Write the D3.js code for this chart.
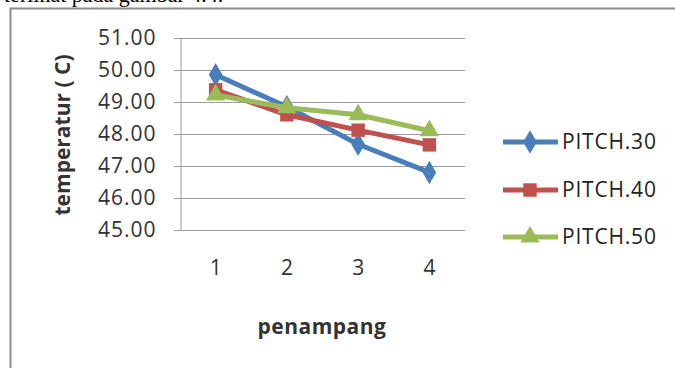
<!DOCTYPE html>
<html>
<head>
<meta charset="utf-8">
<script src="https://cdn.jsdelivr.net/npm/d3@7"></script>
<style>
  body { margin: 0; background: #fff; }
  svg { display: block; }
  text { font-family: "Open Sans", sans-serif; fill: #222; }
</style>
</head>
<body>
<svg id="chart" width="675" height="368"></svg>
<script>
// data
const categories = ["1", "2", "3", "4"];
const pitch30 = [49.85, 48.85, 47.68, 46.8];
const pitch40 = [49.38, 48.6, 48.12, 47.66];
const pitch50 = [49.22, 48.82, 48.6, 48.1];
const seriesNames = ["PITCH.30", "PITCH.40", "PITCH.50"];
const yTicks = [45, 46, 47, 48, 49, 50, 51];

const colors = ["#4a7ebb", "#c0504d", "#9bbb59"];
const symbols = [d3.symbolDiamond, d3.symbolSquare, d3.symbolTriangle];
const symSize = [160, 180, 160];

let svg = d3.select('#chart');

// caption text cut off at the top of the picture
svg.append('text')
  .attr('x', 4).attr('y', 2)
  .style('font-family', '"Liberation Serif", serif')
  .style('font-size', '22px')
  .style('fill', '#000')
  .text('terlihat pada gambar 4.4.');

// chart frame
svg.append('rect')
  .attr('x', 10.5).attr('y', 8.5)
  .attr('width', 700).attr('height', 400)
  .attr('fill', '#fff')
  .attr('stroke', '#8c8c8c')
  .attr('stroke-width', 2);

let margin = { left: 180, right: 465, top: 38, bottom: 230 };

let x = d3.scaleBand()
  .domain(categories)
  .range([margin.left, margin.right]);

let y = d3.scaleLinear()
  .domain([45, 51])
  .range([margin.bottom, margin.top]);

// gridlines
svg.append('g')
  .selectAll('line')
  .data(yTicks)
  .enter()
  .append('line')
  .attr('x1', margin.left - 6)
  .attr('x2', margin.right)
  .attr('y1', d => y(d) + 0.5)
  .attr('y2', d => y(d) + 0.5)
  .attr('stroke', '#9a9a9a')
  .attr('stroke-width', 1);

// y axis
let yAxis = d3.axisLeft(y)
  .tickValues(yTicks)
  .tickFormat(d3.format('.2f'))
  .tickSize(0)
  .tickPadding(24);
let yg = svg.append('g')
  .attr('transform', `translate(${margin.left + 0.5},0)`)
  .call(yAxis);
yg.select('.domain').attr('stroke', '#9a9a9a');
yg.selectAll('text')
  .style('font-size', '21px')
  .style('letter-spacing', '1px')
  .style('fill', '#333');

// x axis labels
let xAxis = d3.axisBottom(x).tickSize(0).tickPadding(30);
let xg = svg.append('g')
  .attr('transform', `translate(0,${margin.bottom})`)
  .call(xAxis);
xg.select('.domain').remove();
xg.selectAll('text')
  .style('font-size', '21px')
  .style('fill', '#333');

// axis titles
svg.append('text')
  .attr('transform', 'translate(63,135) rotate(-90)')
  .attr('text-anchor', 'middle')
  .attr('dy', '0.35em')
  .style('font-size', '21px')
  .style('font-weight', 'bold')
  .style('fill', '#333')
  .text('temperatur ( C)');

svg.append('text')
  .attr('x', 322).attr('y', 334)
  .attr('text-anchor', 'middle')
  .style('font-size', '21px')
  .style('font-weight', 'bold')
  .style('letter-spacing', '0.5px')
  .style('fill', '#333')
  .text('penampang');

// series
let allSeries = [pitch30, pitch40, pitch50];
let cx = (d, i) => x(categories[i]) + x.bandwidth() / 2;
let line = d3.line()
  .x((d, i) => cx(d, i))
  .y(d => y(d));

allSeries.forEach((vals, s) => {
  let g = svg.append('g');
  g.append('path')
    .datum(vals)
    .attr('d', line)
    .attr('fill', 'none')
    .attr('stroke', colors[s])
    .attr('stroke-width', 5)
    .attr('stroke-linejoin', 'round');
  g.selectAll('path.pt')
    .data(vals)
    .enter()
    .append('path')
    .attr('class', 'pt')
    .attr('d', d3.symbol().type(symbols[s]).size(symSize[s]))
    .attr('transform', (d, i) => `translate(${cx(d, i)},${y(d)})`)
    .attr('fill', colors[s]);
});

// legend
let legend = svg.append('g');
let legendY = [142, 190, 237];
seriesNames.forEach((name, s) => {
  let g = legend.append('g').attr('transform', `translate(0,${legendY[s]})`);
  g.append('line')
    .attr('x1', 503).attr('x2', 558)
    .attr('stroke', colors[s])
    .attr('stroke-width', 5);
  g.append('path')
    .attr('d', d3.symbol().type(symbols[s]).size(symSize[s]))
    .attr('transform', 'translate(530,0)')
    .attr('fill', colors[s]);
  g.append('text')
    .attr('x', 562)
    .attr('dy', '0.35em')
    .style('font-size', '21px')
    .style('letter-spacing', '0.8px')
    .style('fill', '#222')
    .text(name);
});
</script>
</body>
</html>
